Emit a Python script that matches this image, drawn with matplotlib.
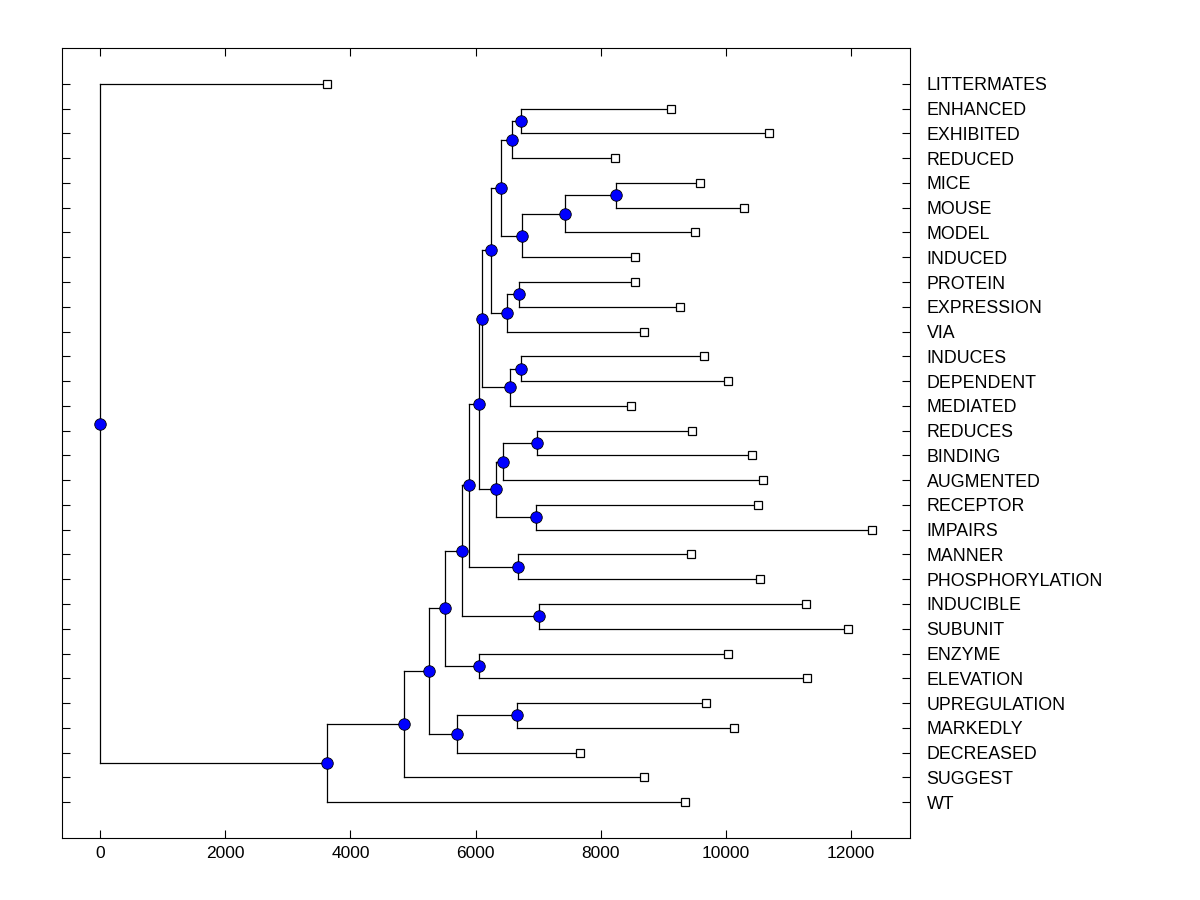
"""Dendrogram of word clusters, drawn by hand from a merge table."""

import numpy as np
import matplotlib
matplotlib.use('Agg')
import matplotlib.pyplot as plt

plt.rcParams['font.family'] = ['Liberation Sans', 'DejaVu Sans']

words = ['LITTERMATES', 'ENHANCED', 'EXHIBITED', 'REDUCED', 'MICE', 'MOUSE',
         'MODEL', 'INDUCED', 'PROTEIN', 'EXPRESSION', 'VIA', 'INDUCES',
         'DEPENDENT', 'MEDIATED', 'REDUCES', 'BINDING', 'AUGMENTED',
         'RECEPTOR', 'IMPAIRS', 'MANNER', 'PHOSPHORYLATION', 'INDUCIBLE',
         'SUBUNIT', 'ENZYME', 'ELEVATION', 'UPREGULATION', 'MARKEDLY',
         'DECREASED', 'SUGGEST', 'WT']

# distance at which each leaf is drawn (end of its branch)
leaf_dist = [3628, 9114, 10694, 8220, 9593, 10295, 9513, 8540, 8540, 9258,
             8683, 9646, 10028, 8481, 9454, 10412, 10588, 10508, 12327, 9438,
             10540, 11274, 11944, 10028, 11290, 9677, 10124, 7666, 8689, 9342]

# merges: node 30 + k joins merge_a[k] and merge_b[k] at merge_h[k]
merge_a = [1, 30, 4, 32, 33, 31, 8, 36, 35, 11, 39, 38, 14, 42, 17, 43, 41,
           19, 46, 21, 48, 23, 50, 25, 53, 52, 55, 56, 0]
merge_b = [2, 3, 5, 6, 7, 34, 9, 10, 37, 12, 13, 40, 15, 16, 18, 44, 45,
           20, 47, 22, 49, 24, 51, 26, 27, 54, 28, 29, 57]
merge_h = [6725, 6582, 8241, 7427, 6741, 6406, 6693, 6501, 6241, 6725, 6550,
           6103, 6980, 6437, 6963, 6326, 6049, 6677, 5895, 7012, 5783, 6055,
           5512, 6661, 5703, 5256, 4862, 3628, 0]

n = len(words)
node_x = list(leaf_dist)
node_y = list(np.arange(n, dtype=float))
for a, b, h in zip(merge_a, merge_b, merge_h):
    node_x.append(h)
    node_y.append((node_y[a] + node_y[b]) / 2)

fig = plt.figure(figsize=(12, 9), dpi=100)
ax = fig.add_axes([62 / 1200, 62 / 900, 848 / 1200, 790 / 900])

lw = 0.9
for a, b, h in zip(merge_a, merge_b, merge_h):
    # vertical connector and the two branches out to the children
    ax.plot([h, h], [node_y[a], node_y[b]], color='black', lw=lw, zorder=1)
    for c in (a, b):
        ax.plot([h, node_x[c]], [node_y[c], node_y[c]], color='black',
                lw=lw, zorder=1)

ax.plot(node_x[n:], node_y[n:], 'o', ms=8.3, mfc='#0000ff', mec='black',
        mew=0.6, ls='none', zorder=3)
ax.plot(node_x[:n], node_y[:n], 's', ms=6, mfc='white', mec='black',
        mew=0.9, ls='none', zorder=3)

ax.set_xlim(-607, 12940)
ax.set_ylim(30.45, -1.45)
ax.set_xticks(np.arange(0, 12001, 2000))
ax.set_yticks(np.arange(n))
ax.set_yticklabels(words)

ax.tick_params(axis='x', direction='in', top=True, bottom=True,
               labeltop=False, labelbottom=True, length=6, width=0.8,
               pad=6, labelsize=12.5)
ax.tick_params(axis='y', direction='in', left=True, right=True,
               labelleft=False, labelright=True, length=6, width=0.8,
               pad=12, labelsize=12.8)
for sp in ax.spines.values():
    sp.set_linewidth(0.8)

fig.savefig('out.png', dpi=100)
